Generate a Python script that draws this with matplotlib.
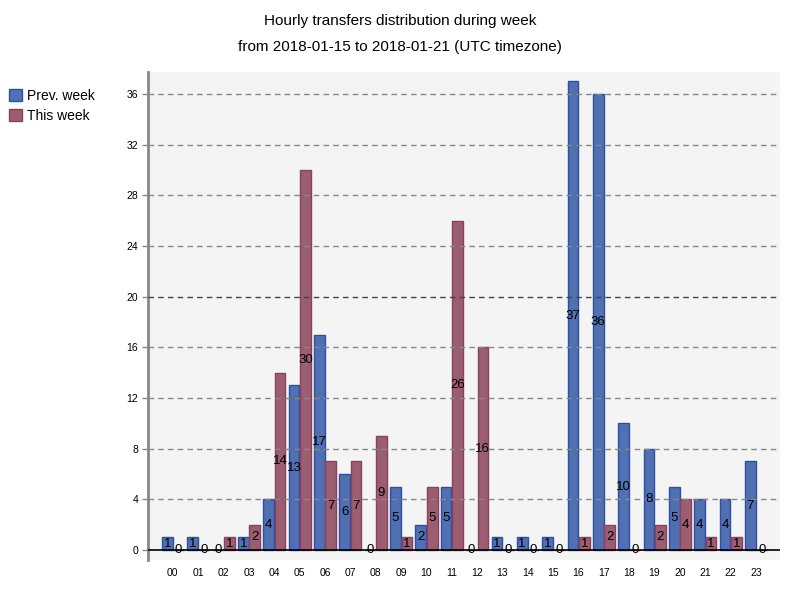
import matplotlib.pyplot as plt
import matplotlib.patches as patches
import numpy as np

plt.rcParams['font.family'] = ['Liberation Sans', 'DejaVu Sans']

hours = ['%02d' % h for h in range(24)]
prev_week = [1, 1, 0, 1, 4, 13, 17, 6, 0, 5, 2, 5, 0, 1, 1, 1, 37, 36, 10, 8, 5, 4, 4, 7]
this_week = [0, 0, 1, 2, 14, 30, 7, 7, 9, 1, 5, 26, 16, 0, 0, 0, 1, 2, 0, 2, 4, 1, 1, 0]
y_ticks = list(range(0, 37, 4))

blue_face, blue_edge = '#5070b2', '#2f50a0'
red_face, red_edge = '#9b5e71', '#8a4160'

fig = plt.figure(figsize=(8, 6), dpi=100)
ax = fig.add_axes([0.185, 0.0667, 0.79, 0.8133])
ax.set_facecolor('#f4f4f4')

x = np.arange(len(hours))
w = 0.42
ax.bar(x - 0.01 - w / 2, prev_week, w, color=blue_face, edgecolor=blue_edge, linewidth=1, zorder=2)
ax.bar(x + 0.02 + w / 2, this_week, w, color=red_face, edgecolor=red_edge, linewidth=1, zorder=2)

# value labels in the middle of each bar
for i in range(len(hours)):
    ax.text(x[i] - 0.01 - w / 2, prev_week[i] / 2, str(prev_week[i]), ha='center', va='center',
            fontsize=9.5, zorder=4)
    ax.text(x[i] + 0.02 + w / 2, this_week[i] / 2, str(this_week[i]), ha='center', va='center',
            fontsize=9.5, zorder=4)

# dashed grid over the bars
for t in y_ticks[1:]:
    ax.axhline(t, color='#444444' if t == 20 else '#888888', linestyle=(0, (4, 3)),
               linewidth=1, zorder=3)
ax.axhline(0, color='black', linewidth=1.2, zorder=3)

ax.set_xlim(-0.98, 23.95)
ax.set_ylim(-0.79, 37.74)
ax.set_yticks(y_ticks)
ax.set_xticks(x)
ax.set_xticklabels(hours)
ax.tick_params(axis='y', labelsize=7.5, length=4, color='#888888', width=1, pad=3)
ax.tick_params(axis='x', labelsize=7.5, length=0, pad=6)
for s in ['top', 'right', 'bottom']:
    ax.spines[s].set_visible(False)
ax.spines['left'].set_color('#888888')
ax.spines['left'].set_linewidth(2)

fig.text(0.5, 0.965, 'Hourly transfers distribution during week', ha='center', va='center', fontsize=11)
fig.text(0.5, 0.922, 'from 2018-01-15 to 2018-01-21 (UTC timezone)', ha='center', va='center', fontsize=11)

handles = [patches.Patch(facecolor=blue_face, edgecolor=blue_edge, label='Prev. week'),
           patches.Patch(facecolor=red_face, edgecolor=red_edge, label='This week')]
fig.legend(handles=handles, loc='upper left', bbox_to_anchor=(-0.005, 0.873), frameon=False,
           fontsize=10, handlelength=0.95, handleheight=0.95, handletextpad=0.4, labelspacing=0.45)

plt.savefig('out.png', dpi=100)
